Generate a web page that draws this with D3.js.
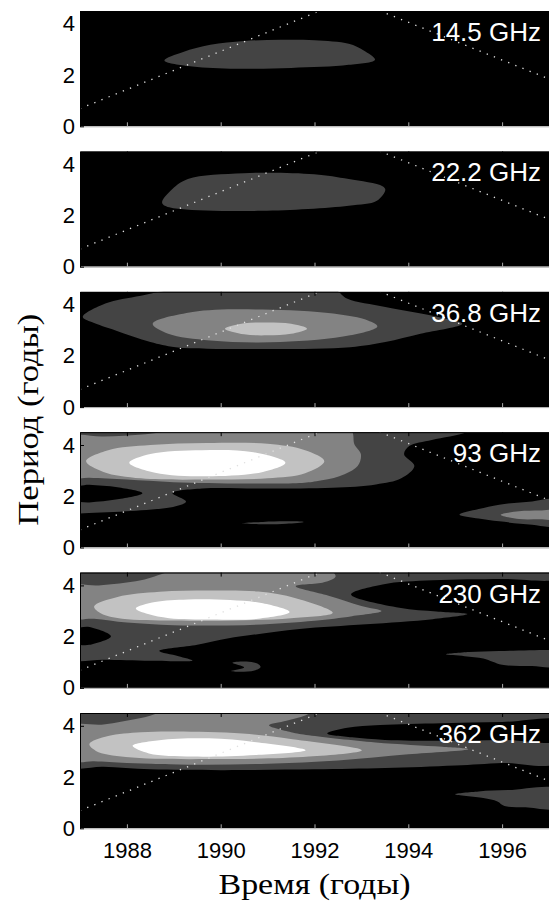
<!DOCTYPE html>
<html>
<head>
<meta charset="utf-8">
<script src="https://cdn.jsdelivr.net/npm/d3@7"></script>
<style>
body { margin: 0; background: #fff; }
svg text { font-family: "Liberation Sans", Arial, sans-serif; }
</style>
</head>
<body>
<div id="chart"></div>
<script>
// axis ticks
const yearTicks = [1988, 1990, 1992, 1994, 1996];
const periodTicks = [0, 2, 4];
const bandLabels = ["14.5 GHz", "22.2 GHz", "36.8 GHz", "93 GHz", "230 GHz", "362 GHz"];

// grey level of each contour level (0 = below lowest contour)
const levelColors = ["#000000", "#444444", "#838383", "#c2c2c2", "#ffffff"];

// cone of influence
const coiYears = [1987, 1992.75, 1997];
const coiPeriods = [0.69, 4.98, 1.85];

// contour outlines, [year, period]
const contours145 = [
    {level: 1, pts: [[1988.8,2.57],[1989.2,2.9],[1989.78,3.18],[1990.5,3.33],[1991.28,3.38],[1992.0,3.36],[1992.73,3.22],[1993.05,2.96],[1993.29,2.6],[1992.73,2.4],[1991.5,2.28],[1990.2,2.25],[1989.3,2.35]]}
];

const contours222 = [
    {level: 1, pts: [[1988.75,2.51],[1988.93,2.96],[1989.3,3.42],[1990.49,3.65],[1991.99,3.61],[1992.73,3.42],[1993.45,3.14],[1993.51,3.0],[1993.33,2.57],[1992.73,2.38],[1990.87,2.18],[1989.15,2.25],[1988.81,2.38]]}
];

const contours368 = [
    {level: 1, pts: [[1987.06,3.52],[1987.54,4.04],[1988.3,4.35],[1989.17,4.62],[1992.4,4.62],[1992.69,4.24],[1993.51,3.91],[1994.64,3.52],[1995.15,3.25],[1994.26,2.86],[1993.51,2.54],[1992.76,2.34],[1990.52,2.27],[1989.04,2.34],[1988.5,2.54],[1987.76,2.99],[1987.25,3.32]]},
    {level: 2, pts: [[1988.55,3.25],[1989.4,3.71],[1990.9,3.81],[1992.4,3.65],[1993.14,3.38],[1993.34,3.15],[1992.76,2.8],[1991.28,2.54],[1989.78,2.6],[1988.88,2.86]]},
    {level: 3, pts: [[1990.09,3.06],[1990.5,3.27],[1991.0,3.3],[1991.5,3.25],[1991.84,3.06],[1991.5,2.86],[1991.0,2.8],[1990.5,2.84]]}
];

const contours93 = [
    {level: 1, pts: [[1986.8,4.7],[1995.4,4.7],[1995.23,4.49],[1994.5,4.2],[1994.02,3.96],[1993.91,3.64],[1994.13,3.18],[1993.85,2.7],[1993.31,2.46],[1992.38,2.33],[1991.0,2.3],[1989.6,2.3],[1988.97,2.12],[1989.26,1.8],[1989.04,1.61],[1987.98,1.41],[1987.0,1.33],[1986.8,1.32],[1986.8,1.74],[1987.2,1.76],[1987.8,1.88],[1988.33,2.12],[1987.8,2.35],[1987.2,2.45],[1986.8,2.46]]},
    {level: 1, pts: [[1995.09,1.28],[1995.5,1.5],[1995.94,1.67],[1996.64,1.8],[1997.2,1.84],[1997.2,0.86],[1996.64,0.89],[1995.94,1.02],[1995.5,1.13]]},
    {level: 1, pts: [[1990.46,0.95],[1990.9,1.0],[1991.4,1.02],[1991.77,1.0],[1991.4,0.93],[1990.9,0.91]]},
    {level: 2, pts: [[1986.8,4.29],[1987.5,4.33],[1988.4,4.42],[1989.26,4.62],[1992.7,4.62],[1992.81,4.49],[1992.85,4.03],[1992.99,3.64],[1992.92,3.18],[1992.53,2.78],[1992.04,2.59],[1991.68,2.52],[1990.5,2.5],[1989.0,2.55],[1988.0,2.65],[1987.2,2.72],[1986.8,2.75]]},
    {level: 2, pts: [[1995.97,1.28],[1996.36,1.41],[1996.8,1.44],[1997.2,1.44],[1997.2,1.12],[1996.8,1.1],[1996.36,1.11]]},
    {level: 3, pts: [[1987.13,3.37],[1987.6,3.8],[1988.5,4.0],[1989.7,4.08],[1991.0,4.05],[1991.8,3.8],[1992.21,3.37],[1991.8,2.9],[1991.0,2.7],[1989.7,2.65],[1988.3,2.7],[1987.5,2.95]]},
    {level: 4, pts: [[1988.05,3.31],[1988.5,3.65],[1989.6,3.8],[1990.7,3.72],[1991.38,3.31],[1990.9,2.95],[1989.7,2.78],[1988.6,2.92]]}
];

const contours230 = [
    {level: 1, pts: [[1986.8,4.7],[1997.2,4.7],[1997.2,4.28],[1996.0,4.25],[1994.52,4.2],[1993.45,4.04],[1992.78,3.65],[1993.81,3.13],[1994.6,2.98],[1995.26,2.88],[1994.52,2.68],[1993.1,2.48],[1991.68,2.3],[1990.6,2.05],[1990.0,1.88],[1989.5,1.68],[1988.69,1.44],[1989.1,1.24],[1989.4,1.07],[1988.5,1.06],[1987.5,1.1],[1986.8,1.11],[1986.8,1.63],[1987.2,1.68],[1987.66,2.02],[1987.2,2.38],[1986.8,2.41]]},
    {level: 1, pts: [[1990.25,0.98],[1990.55,1.03],[1990.78,0.95],[1990.85,0.82],[1990.72,0.68],[1990.42,0.63],[1990.22,0.66],[1990.5,0.8]]},
    {level: 1, pts: [[1994.8,1.31],[1995.3,1.4],[1995.94,1.44],[1996.96,1.48],[1997.2,1.48],[1997.2,0.86],[1996.64,0.85],[1996.0,0.9],[1995.8,1.02],[1995.6,1.15],[1995.2,1.24]]},
    {level: 2, pts: [[1986.8,3.95],[1987.4,4.0],[1988.3,4.2],[1989.15,4.62],[1992.3,4.62],[1992.45,4.35],[1992.2,4.12],[1991.6,3.97],[1992.3,3.6],[1993.0,3.2],[1993.43,3.0],[1992.8,2.8],[1992.0,2.62],[1990.5,2.45],[1989.0,2.45],[1988.0,2.55],[1987.3,2.7],[1986.8,2.75]]},
    {level: 3, pts: [[1987.3,3.18],[1987.8,3.55],[1988.7,3.75],[1989.75,3.8],[1990.8,3.76],[1991.6,3.5],[1992.39,2.93],[1991.5,2.72],[1990.3,2.63],[1989.0,2.63],[1987.9,2.7],[1987.45,2.9]]},
    {level: 4, pts: [[1988.19,3.1],[1988.6,3.35],[1989.3,3.45],[1990.2,3.43],[1990.9,3.3],[1991.47,2.96],[1990.8,2.7],[1989.8,2.67],[1988.9,2.72],[1988.45,2.88]]}
];

const contours362 = [
    {level: 1, pts: [[1986.8,4.7],[1997.2,4.7],[1997.2,2.6],[1996.0,2.55],[1995.0,2.45],[1993.5,2.35],[1992.0,2.3],[1990.0,2.27],[1988.5,2.3],[1987.5,2.4],[1986.8,2.45]]},
    {level: 0, pts: [[1992.27,3.7],[1992.7,3.92],[1993.4,4.03],[1994.7,4.1],[1996.0,4.15],[1997.3,4.18],[1997.3,3.45],[1996.0,3.45],[1994.7,3.42],[1993.5,3.45],[1992.8,3.55]]},
    {level: 1, pts: [[1995.0,1.33],[1995.5,1.44],[1996.13,1.49],[1997.2,1.52],[1997.2,0.8],[1996.5,0.82],[1996.05,0.87],[1995.9,1.05],[1995.6,1.18]]},
    {level: 2, pts: [[1986.8,3.96],[1987.5,4.05],[1988.3,4.3],[1989.0,4.62],[1992.0,4.62],[1991.8,4.4],[1991.4,4.2],[1991.03,4.02],[1991.5,3.75],[1991.88,3.63],[1993.3,3.35],[1994.72,3.18],[1995.28,3.09],[1994.0,2.89],[1992.5,2.65],[1991.0,2.52],[1989.5,2.48],[1988.0,2.55],[1987.3,2.62],[1986.8,2.65]]},
    {level: 3, pts: [[1987.2,3.29],[1987.6,3.6],[1988.3,3.75],[1989.04,3.78],[1990.46,3.7],[1991.53,3.48],[1993.01,3.05],[1991.88,2.8],[1989.75,2.7],[1987.98,2.78],[1987.34,3.02]]},
    {level: 4, pts: [[1988.12,3.22],[1988.69,3.44],[1989.75,3.51],[1990.81,3.35],[1991.81,3.05],[1990.81,2.87],[1989.4,2.8],[1988.47,2.92]]}
];

const panelContours = [contours145, contours222, contours368, contours93, contours230, contours362];

var width = 549, height = 909;
var left = 80, right = 549;
var top0 = 11, step = 140.4, ph = 115.3;

var x = d3.scaleLinear().domain([1987, 1997]).range([left, right]);
var y = d3.scaleLinear().domain([0, 4.5]).range([ph, 0]);

var contourLine = d3.line()
    .x(d => x(d[0]))
    .y(d => y(d[1]))
    .curve(d3.curveCatmullRomClosed.alpha(0.5));

var coiLine = d3.line().x(d => x(d[0])).y(d => y(d[1]));
var coiPts = coiYears.map((t, i) => [t, coiPeriods[i]]);

var svg = d3.select("#chart").append("svg")
    .attr("width", width)
    .attr("height", height);

panelContours.forEach((contours, i) => {
    let g = svg.append("g").attr("transform", "translate(0," + (top0 + i * step) + ")");

    g.append("clipPath").attr("id", "clip" + i)
        .append("rect")
        .attr("x", left).attr("y", 0)
        .attr("width", right - left).attr("height", ph);

    let plot = g.append("g").attr("clip-path", "url(#clip" + i + ")");

    plot.append("rect")
        .attr("x", left).attr("y", 0)
        .attr("width", right - left).attr("height", ph)
        .attr("fill", "#000");

    plot.selectAll("path.contour")
        .data(contours)
        .enter()
        .append("path")
            .attr("class", "contour")
            .attr("d", d => contourLine(d.pts))
            .attr("fill", d => levelColors[d.level]);

    // cone of influence, dotted
    plot.append("path")
        .attr("d", coiLine(coiPts))
        .attr("fill", "none")
        .attr("stroke", "#e0e0e0")
        .attr("stroke-width", 1.3)
        .attr("stroke-dasharray", "1.3,6.4");

    // top ticks
    let topAxis = g.append("g")
        .call(d3.axisTop(x).tickValues(yearTicks).tickSize(-4).tickSizeOuter(0).tickFormat(""));
    topAxis.select(".domain").attr("stroke", "#000");
    topAxis.selectAll(".tick line").attr("stroke", "#000");

    // bottom axis
    let bottomAxis = g.append("g")
        .attr("transform", "translate(0," + ph + ")")
        .call(d3.axisBottom(x).tickValues(yearTicks).tickSize(-4).tickSizeOuter(0).tickPadding(14)
            .tickFormat(i == panelContours.length - 1 ? d3.format("d") : ""));
    bottomAxis.select(".domain").attr("stroke", "#aaa");
    bottomAxis.selectAll(".tick line").attr("stroke", "#aaa");
    bottomAxis.selectAll(".tick text")
        .attr("font-size", 22)
        .attr("fill", "#000")
        .style("font-family", "'Liberation Sans', Arial, sans-serif");

    // left axis
    let leftAxis = g.append("g")
        .attr("transform", "translate(" + left + ",0)")
        .call(d3.axisLeft(y).tickValues(periodTicks).tickSize(-4).tickSizeOuter(0).tickPadding(5)
            .tickFormat(d3.format("d")));
    leftAxis.select(".domain").attr("stroke", "#000");
    leftAxis.selectAll(".tick line").attr("stroke", "#000");
    leftAxis.selectAll(".tick text")
        .attr("font-size", 22)
        .attr("fill", "#000")
        .style("font-family", "'Liberation Sans', Arial, sans-serif");

    g.append("text")
        .attr("x", 541)
        .attr("y", 30)
        .attr("text-anchor", "end")
        .attr("font-size", 26)
        .attr("fill", "#fff")
        .text(bandLabels[i]);
});

svg.append("text")
    .attr("x", (left + right) / 2)
    .attr("y", 894)
    .attr("text-anchor", "middle")
    .attr("font-size", 30)
    .attr("textLength", 192)
    .attr("lengthAdjust", "spacingAndGlyphs")
    .style("font-family", "'Liberation Serif', 'Times New Roman', serif")
    .text("Время (годы)");

svg.append("text")
    .attr("transform", "translate(38," + (top0 + (5 * step + ph) / 2) + ") rotate(-90)")
    .attr("text-anchor", "middle")
    .attr("font-size", 30)
    .attr("textLength", 212)
    .attr("lengthAdjust", "spacingAndGlyphs")
    .style("font-family", "'Liberation Serif', 'Times New Roman', serif")
    .text("Период (годы)");
</script>
</body>
</html>
